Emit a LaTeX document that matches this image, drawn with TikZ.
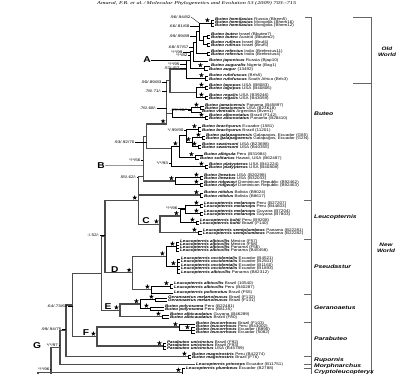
\documentclass[tikz,border=0pt]{standalone}
\usepackage{fontspec}
\setmainfont{Liberation Sans}
\newfontfamily\hdrfont{Liberation Serif}
\usetikzlibrary{calc,shapes.geometric}
\newcommand{\tnm}[2]{\scalebox{1.2}[1]{\textbf{\textit{#1}} #2}}
\newcommand{\taxon}[5]{\coordinate (#1) at (#2,#3); \node[tx] (#1l) at ([xshift=1pt]#1) {\tnm{#4}{#5}};}
\newcommand{\clade}[5][br]{\path let \p1=(#4), \p2=(#5) in (#3pt,{(\y1+\y2)/2}) coordinate (#2); \draw[#1] (#2) |- (#4); \draw[#1] (#2) |- (#5);}
\newcommand{\cladeY}[6][br]{\coordinate (#2) at (#3,#4); \draw[#1] (#2) |- (#5); \draw[#1] (#2) |- (#6);}
\newcommand{\also}[3][br]{\draw[#1] (#2) |- (#3);}
\newcommand{\st}[1]{\node[stn] (s#1) at ([shift={(-3.6pt,2.8pt)}]#1) {};}
\newcommand{\sv}[5]{\node[sup] (#1) at (#2,#3) {\scalebox{1.25}[1]{#4}}; \draw[lead] (#1.east) -- (#1.east -| #5);}
\newcommand{\svd}[5]{\node[sup] (#1) at (#2,#3) {\scalebox{1.25}[1]{#4}}; \draw[lead] (#1.east) -- (#5);}
\tikzset{
 br/.style={line width=0.65pt, black},
 deep/.style={line width=1.25pt, black!70},
 tx/.style={anchor=west, inner sep=0pt, font=\fontsize{3.8}{3.8}\selectfont},
 sup/.style={anchor=east, inner sep=0.3pt, font=\fontsize{3.7}{3.7}\selectfont},
 lead/.style={line width=0.3pt, black},
 stn/.style={star, star points=5, star point ratio=2.4, fill=black, draw=none, inner sep=0pt, minimum size=5pt},
 letter/.style={inner sep=0pt, font=\fontsize{8.5}{8.5}\selectfont\bfseries},
 grp/.style={anchor=west, inner sep=0pt, font=\fontsize{5.2}{5.2}\selectfont\bfseries\itshape},
 wld/.style={inner sep=0pt, font=\fontsize{4.9}{4.9}\selectfont\bfseries\itshape},
 brk/.style={line width=0.8pt, black!60},
}
\begin{document}
\begin{tikzpicture}[x=1pt,y=-1pt]
\useasboundingbox (0,0) rectangle (397,374);
\fill[white] (0,0) rectangle (397,374);
\clip (0,0) rectangle (397,374);
% header
\node[anchor=base west, inner sep=0pt] (hdr) at (97,4.6) {\resizebox{199pt}{3pt}{\hdrfont\itshape Amaral, F.R. et al.\,/\,Molecular Phylogenetics and Evolution 53 (2009) 703--715}};
% ---------------- Old World ----------------
\taxon{t1}{214}{20}{Buteo hemilasius}{Russia (Bhem5)}
\taxon{t2}{214}{23}{Buteo hemilasius}{Mongolia (Bhem16)}
\taxon{t3}{214}{26}{Buteo hemilasius}{Mongolia (Bhem12)}
\taxon{t4}{210}{35}{Buteo buteo}{Israel (Bbuteo7)}
\taxon{t5}{210}{38}{Buteo buteo}{Austria (Bbuteo2)}
\taxon{t6}{210}{43}{Buteo rufinus}{Israel (Bruf4)}
\taxon{t7}{210}{46}{Buteo rufinus}{Israel (Bruf5)}
\taxon{t8}{210}{52}{Buteo refectus}{India (Brefectus11)}
\taxon{t9}{210}{55}{Buteo refectus}{India (Brefectus4)}
\taxon{t10}{208}{61}{Buteo japonicus}{Russia (Bjap10)}
\taxon{t11}{210}{66}{Buteo auguralis}{Nigeria (Bag1)}
\taxon{t12}{208}{70}{Buteo augur}{(13492)}
\taxon{t13}{208}{76}{Buteo rufofuscus}{(Brfs5)}
\taxon{t14}{208}{80}{Buteo rufofuscus}{South Africa (Brfc3)}
\clade{hem}{211}{t1}{t3} \also{hem}{t2}
\clade{bb}{207}{t4}{t5}
\clade{ru}{207}{t6}{t7}
\clade{o1}{203}{bb}{ru}
\clade{o2}{199}{hem}{o1}
\clade{re}{207}{t8}{t9}
\clade{o3}{196}{o2}{re}
\clade{o4}{193}{o3}{t10}
\clade{au}{204}{t11}{t12}
\clade{A}{190}{o4}{au}
\clade{rf}{205}{t13}{t14}
\clade{OW}{186}{A}{rf}
% ---------------- New World Buteo ----------------
\taxon{t15}{208}{86}{Buteo lagopus}{USA (B8083)}
\taxon{t16}{208}{89}{Buteo lagopus}{USA (B40806)}
\taxon{t17}{208}{96}{Buteo regalis}{USA (B39246)}
\taxon{t18}{208}{99}{Buteo regalis}{USA (B43059)}
\taxon{t19}{204}{106}{Buteo jamaicensis}{Panama (B45897)}
\taxon{t20}{204}{109}{Buteo jamaicensis}{USA (B23618)}
\taxon{t21}{201}{112}{Buteo ventralis}{Argentina (Bven1)}
\taxon{t22}{208}{116}{Buteo albonotatus}{Brazil (F142)}
\taxon{t23}{208}{119}{Buteo albonotatus}{Panama (B28410)}
\taxon{t24}{201}{127}{Buteo brachyurus}{Ecuador (1581)}
\taxon{t25}{201}{131}{Buteo brachyurus}{Brazil (11201)}
\taxon{t26}{205}{136}{Buteo galapagoensis}{Galapagos, Ecuador (G85)}
\taxon{t27}{205}{139}{Buteo galapagoensis}{Galapagos, Ecuador (G2N)}
\taxon{t28}{201}{145}{Buteo swainsoni}{USA (B23698)}
\taxon{t29}{201}{148}{Buteo swainsoni}{USA (B40355)}
\taxon{t30}{203}{155}{Buteo albigula}{Peru (B31984)}
\taxon{t31}{199}{159}{Buteo solitarius}{Hawaii, USA (B62487)}
\taxon{t32}{208}{165}{Buteo platypterus}{USA (B41224)}
\taxon{t33}{208}{168}{Buteo platypterus}{USA (B40808)}
\taxon{t34}{203}{176}{Buteo lineatus}{USA (B20298)}
\taxon{t35}{203}{179}{Buteo lineatus}{USA (B32033)}
\taxon{t36}{203}{183}{Buteo ridgwayi}{Dominican Republic (B92462)}
\taxon{t37}{203}{186}{Buteo ridgwayi}{Dominican Republic (B92463)}
\taxon{t38}{203}{193}{Buteo nitidus}{Bolivia (B9024)}
\taxon{t39}{203}{197}{Buteo nitidus}{Bolivia (B8617)}
\clade{lag}{205}{t15}{t16}
\clade{reg}{205}{t17}{t18}
\clade{lr}{196}{lag}{reg}
\clade[deep]{Na}{170}{OW}{lr}
\clade{jam}{200}{t19}{t20}
\clade{jv}{191}{jam}{t21}
\clade{alb}{205}{t22}{t23}
\clade{jva}{172}{jv}{alb}
\cladeY[deep]{Nb}{166.7}{124}{Na}{jva}
\clade{bra}{198}{t24}{t25}
\clade{gal}{202}{t26}{t27}
\clade{swa}{198}{t28}{t29}
\clade{gs}{192}{gal}{swa}
\clade{bgs}{186}{bra}{gs}
\clade{as}{195}{t30}{t31}
\clade{bgsas}{179}{bgs}{as}
\clade{pla}{205}{t32}{t33}
\cladeY{X}{171}{148.3}{bgsas}{pla}
\clade[deep]{Nc}{146.7}{Nb}{X}
\clade{lin}{200}{t34}{t35}
\clade{rid}{200}{t36}{t37}
\clade{lrb}{175}{lin}{rid}
\cladeY[deep]{B}{143.3}{176.7}{Nc}{lrb}
\clade{nit}{200}{t38}{t39}
% ---------------- Leucopternis ----------------
\taxon{t40}{203}{204}{Leucopternis melanops}{Peru (B27207)}
\taxon{t41}{203}{207}{Leucopternis melanops}{Peru (B44603)}
\taxon{t42}{203}{212}{Leucopternis melanops}{Guyana (B7204)}
\taxon{t43}{203}{215}{Leucopternis melanops}{Guyana (B7803)}
\taxon{t44}{199}{221}{Leucopternis kuhli}{Peru (B9208)}
\taxon{t45}{199}{224}{Leucopternis kuhli}{Brazil (F140)}
\taxon{t46}{202}{231}{Leucopternis semiplumbeus}{Panama (B22281)}
\taxon{t47}{202}{234}{Leucopternis semiplumbeus}{Panama (B22282)}
\clade{ma}{200}{t40}{t41}
\clade{mb}{200}{t42}{t43}
\clade{mab}{185}{ma}{mb}
\clade{ku}{196}{t44}{t45}
\clade{mk}{180}{mab}{ku}
\clade{se}{198}{t46}{t47}
\clade[deep]{C}{160}{mk}{se}
\clade[deep]{BC}{138.3}{B}{C} \also[deep]{BC}{nit}
% ---------------- Pseudastur ----------------
\taxon{t48}{179}{242}{Leucopternis albicollis}{Mexico (F57)}
\taxon{t49}{179}{245}{Leucopternis albicollis}{Mexico (F58)}
\taxon{t50}{179}{248}{Leucopternis albicollis}{Panama (F56)}
\taxon{t51}{179}{251}{Leucopternis albicollis}{Panama (B45458)}
\taxon{t52}{180}{259}{Leucopternis occidentalis}{Ecuador (B4521)}
\taxon{t53}{180}{262}{Leucopternis occidentalis}{Ecuador (B2501)}
\taxon{t54}{180}{266}{Leucopternis occidentalis}{Ecuador (B1160)}
\taxon{t55}{180}{269}{Leucopternis occidentalis}{Ecuador (B1893)}
\taxon{t56}{180}{273}{Leucopternis albicollis}{Panama (B82312)}
\taxon{t57}{173}{284}{Leucopternis albicollis}{Brazil (10540)}
\taxon{t58}{173}{288}{Leucopternis albicollis}{Peru (B40287)}
\taxon{t59}{173}{293}{Leucopternis polionotus}{Brazil (F55)}
\clade{ab}{176}{t48}{t51} \also{ab}{t49} \also{ab}{t50}
\clade{oc}{177}{t52}{t56} \also{oc}{t53} \also{oc}{t54} \also{oc}{t55}
\clade{Da}{166}{ab}{oc}
\clade{abc}{170}{t57}{t58}
\clade{pa}{151}{abc}{t59}
\clade[deep]{D}{132.7}{Da}{pa}
\clade[deep]{BCD}{105}{BC}{D}
% ---------------- Geranoaetus ----------------
\taxon{t60}{167}{298}{Geranoaetus melanoleucus}{Brazil (F132)}
\taxon{t61}{167}{301}{Geranoaetus melanoleucus}{Brazil (F131)}
\taxon{t62}{164}{307}{Buteo polyosoma}{Peru (B22481)}
\taxon{t63}{164}{310}{Buteo polyosoma}{Peru (B8135)}
\taxon{t64}{169}{315}{Buteo albicaudatus}{Guyana (B46289)}
\taxon{t65}{169}{318}{Buteo albicaudatus}{Brazil (F80)}
\clade{ge}{155}{t60}{t61}
\clade{po}{150}{t62}{t63}
\clade{gp}{140}{ge}{po}
\clade{ac}{162}{t64}{t65}
\clade[deep]{E}{120}{gp}{ac}
\clade[deep]{BCDE}{101.7}{BCD}{E}
% ---------------- Parabuteo ----------------
\taxon{t66}{195}{324}{Buteo leucorrhous}{Brazil (F103)}
\taxon{t67}{195}{327}{Buteo leucorrhous}{Peru (B43002)}
\taxon{t68}{195}{330}{Buteo leucorrhous}{Ecuador (B890)}
\taxon{t69}{195}{333}{Buteo leucorrhous}{Ecuador (5082)}
\taxon{t70}{166}{343}{Parabuteo unicinctus}{Brazil (F92)}
\taxon{t71}{166}{346}{Parabuteo unicinctus}{Brazil (F93)}
\taxon{t72}{166}{349}{Parabuteo unicinctus}{USA (B45789)}
\clade{lca}{191}{t67}{t69} \also{lca}{t68}
\clade{lc}{179}{t66}{lca}
\clade{pb}{163}{t70}{t72} \also{pb}{t71}
\clade[deep]{F}{97}{lc}{pb}
\clade[deep]{NF}{72.7}{BCDE}{F}
% ---------------- Rupornis, Morphnarchus, Cryptoleucopteryx ----------------
\taxon{t73}{191}{355}{Buteo magnirostris}{Peru (B42274)}
\taxon{t74}{191}{358}{Buteo magnirostris}{Brazil (F76)}
\taxon{t75}{195}{364.5}{Leucopternis princeps}{Ecuador (B11751)}
\taxon{t76}{185}{368.5}{Leucopternis plumbeus}{Ecuador (B2788)}
\coordinate (t77) at (185,377);
\clade{mg}{188}{t73}{t74}
\clade[deep]{NR}{66}{NF}{mg}
\clade[deep]{G}{60}{NR}{t75}
\clade{pl}{182}{t76}{t77}
\coordinate (off) at (120,398);
\clade[deep]{R}{51}{G}{off} \also[deep]{R}{pl}
\path let \p1=(R) in (38pt,\y1) coordinate (Rs);
\coordinate (Rb) at (38,392);
\draw[deep] (Rb) -- (Rs) -- (R);
% ---------------- stars ----------------
\foreach \n in {hem,au,rf,lag,reg,jam,alb,Nb,bra,gal,gs,swa,bgsas,as,pla,lin,rid,lrb,nit,BC,ma,mb,mk,ku,se,C,ab,oc,Da,abc,pa,D,ge,po,gp,ac,E,lc,lca,pb,F,mg,pl}{\st{\n}}
% ---------------- support values ----------------
\svd{v1}{191}{17}{.96/.94/82}{o2 |- hem}
\sv{v2}{190}{26}{.66/.81/68}{o2}
\sv{v3}{190}{36}{.99/.99/89}{o3}
\sv{v4}{189}{47.5}{.68/.57/57}{o4}
\sv{v5}{183}{52}{*/*/99}{A}
\sv{v6}{188}{55.5}{*/*/82}{A}
\sv{v7}{180}{64}{*/*/95}{OW}
\sv{v8}{180}{68}{.57/-/57}{OW}
\sv{v9}{162}{82}{.90/.89/83}{Nb}
\sv{v10}{162}{91}{.78/.71/-}{Nb}
\sv{v11}{157}{108}{.76/.68/-}{Nb}
\sv{v12}{188}{110.5}{.97/.98/*}{jv}
\sv{v13}{184}{130}{*/.99/90}{bgs}
\sv{v14}{135}{142}{.93/.92/70}{Nc}
\sv{v15}{141}{160.5}{*/*/56}{B}
\sv{v16}{168.5}{163.5}{*/*/93}{X}
\sv{v17}{137}{177.5}{.55/.62/-}{BC}
\sv{v18}{178}{208}{*/*/96}{mab}
\sv{v19}{100}{235}{-/.52/-}{BCD}
\sv{v20}{68}{306}{.64/.73/64}{NF}
\sv{v21}{62}{329}{.99/.94/75}{NR}
\sv{v22}{58.5}{345.5}{*/*/97}{G}
\sv{v23}{50}{369.3}{*/*/96}{R}
% ---------------- clade letters ----------------
\path let \p1=(A) in (147pt,\y1) node[letter] (LA) {\scalebox{1.2}[1]{A}};
\draw[lead] (LA.east) -- (A);
\node[letter] (LB) at (101,165.5) {\scalebox{1.2}[1]{B}};
\draw[line width=0.6pt, black!40] (LB.east) -- (LB.east -| B);
\node[letter] (LC) at ([shift={(-14pt,3.7pt)}]C) {\scalebox{1.2}[1]{C}};
\node[letter] (LD) at ([shift={(-18pt,3.6pt)}]D) {\scalebox{1.2}[1]{D}};
\node[letter] (LE) at ([shift={(-12pt,3.7pt)}]E) {\scalebox{1.2}[1]{E}};
\node[letter] (LF) at ([shift={(-11pt,3.6pt)}]F) {\scalebox{1.2}[1]{F}};
\node[letter] (LG) at (37,346) {\scalebox{1.2}[1]{G}};
% ---------------- brackets ----------------
\draw[brk] (305,17) -- (311,17) -- (311,376);
\foreach \yy in {200.7,239.3,294,322.7,356,364.6,368.3}{\draw[brk] (304,\yy) -- (311,\yy);}
\draw[brk] (353,17) -- (371.7,17) -- (371.7,376);
\draw[brk] (353,83.3) -- (371.7,83.3);
\node[grp] (gBu) at (314,114) {\scalebox{1.3}[1]{Buteo}};
\node[grp] (gLe) at (314,217) {\scalebox{1.3}[1]{Leucopternis}};
\node[grp] (gPs) at (314,267) {\scalebox{1.3}[1]{Pseudastur}};
\node[grp] (gGe) at (314,308) {\scalebox{1.3}[1]{Geranoaetus}};
\node[grp] (gPa) at (314,339) {\scalebox{1.3}[1]{Parabuteo}};
\node[grp] (gRu) at (314,359.8) {\scalebox{1.3}[1]{Rupornis}};
\node[grp] (gMo) at (314,366.6) {\scalebox{1.3}[1]{Morphnarchus}};
\node[grp] (gCr) at (314,371.9) {\scalebox{1.3}[1]{Cryptoleucopteryx}};
\node[wld] (ow1) at (387,48.5) {\scalebox{1.3}[1]{Old}};
\node[wld] (ow2) at (387,54.5) {\scalebox{1.3}[1]{World}};
\node[wld] (nw1) at (386,245) {\scalebox{1.3}[1]{New}};
\node[wld] (nw2) at (386,251) {\scalebox{1.3}[1]{World}};
\end{tikzpicture}
\end{document}
